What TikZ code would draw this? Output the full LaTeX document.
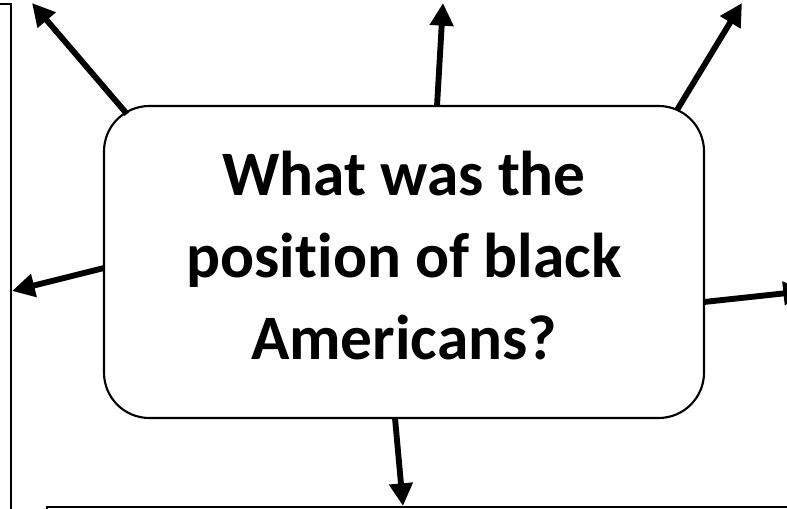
\documentclass[tikz,border=0pt]{standalone}
\usepackage{fontspec}
\setmainfont{Carlito}[Ligatures=NoCommon]
\usetikzlibrary{arrows.meta}
\begin{document}
\begin{tikzpicture}[x=0.75pt,y=-0.75pt,
  boxline/.style={draw=black,line width=1.6pt},
  arr/.style={line width=4.4pt,-{Triangle[length=17pt,width=17pt]}},
  q/.style={boxline,rounded corners=34pt,minimum width=450pt,minimum height=234pt,inner sep=0pt},
  qtext/.style={align=center,inner sep=0pt,font=\fontsize{47.5}{61.5}\selectfont\bfseries}]
\useasboundingbox (0,0) rectangle (787,509);
\clip (0,0) rectangle (787,509);
% side boxes (partly outside the picture)
\node[boxline,anchor=north east,minimum width=150pt,minimum height=600pt,inner sep=0pt] (L) at (12,3) {};
\node[boxline,anchor=north west,minimum width=700pt,minimum height=200pt,inner sep=0pt] (B) at (46,506) {};
\node[boxline,anchor=north west,minimum width=100pt,minimum height=400pt,inner sep=0pt] (R) at (803,-50) {};
% central question
\node[q] (c) at (404,262) {};
\node[qtext] (ct) at (404,256) {What was the\\position of black\\Americans?};
% start points on the box
\coordinate (s1) at (127,114);
\coordinate (s2) at (437,106);
\coordinate (s3) at (677,110);
\coordinate (s4) at (104,268);
\coordinate (s5) at (704,302);
\coordinate (s6) at (395,418);
% free ends
\coordinate (t1) at (32,3);
\coordinate (t2) at (443,3);
\coordinate (t3) at (742,3);
\coordinate (t4) at (12,291);
\coordinate (t5) at (806,291);
\coordinate (t6) at (403,506);
\draw[arr] (s1) -- (t1);
\draw[arr] (s2) -- (t2);
\draw[arr] (s3) -- (t3);
\draw[arr] (s4) -- (t4);
\draw[arr] (s5) -- (t5);
\draw[arr] (s6) -- (t6);
\end{tikzpicture}
\end{document}
